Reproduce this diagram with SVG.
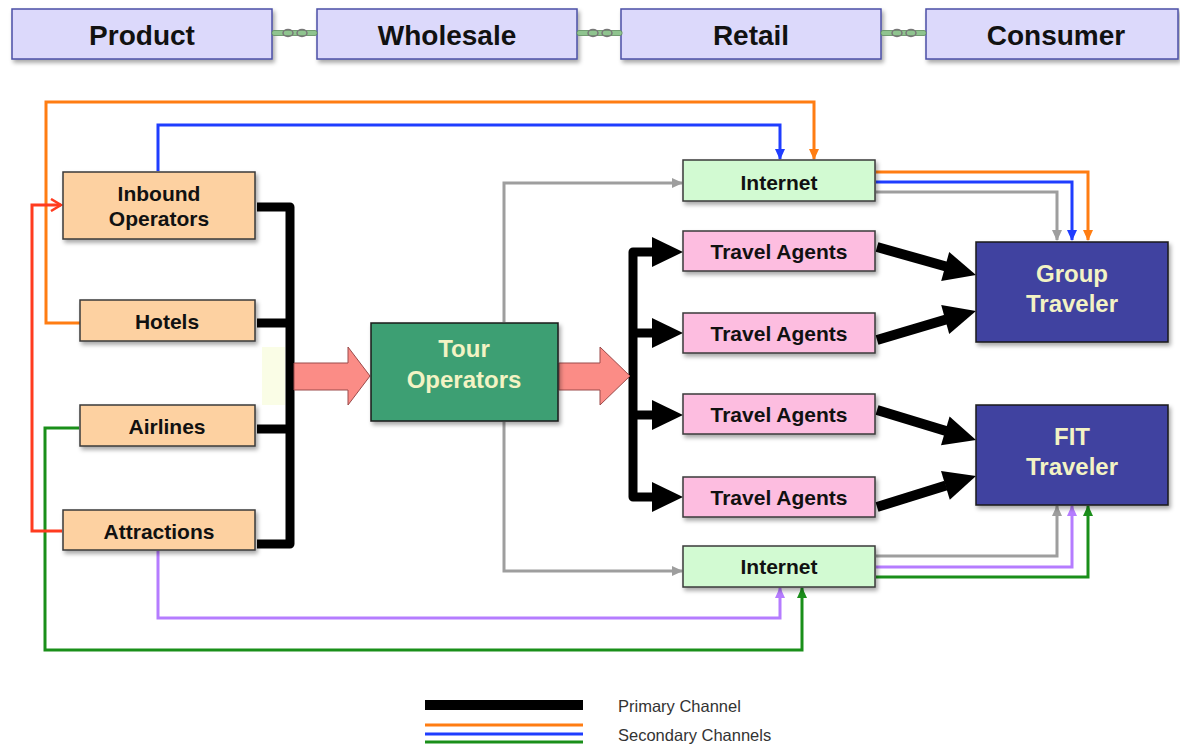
<svg xmlns="http://www.w3.org/2000/svg" width="1180" height="744" viewBox="0 0 1180 744">
<style>
text{font-family:"Liberation Sans",Arial,sans-serif;font-weight:bold;text-anchor:middle;fill:#111}
.hdr rect{fill:#dcd9fb;stroke:#4b4fa6;stroke-width:1.5}
.hdr text{font-size:28px}
.src rect{fill:#fdd1a1;stroke:#3a3a3a;stroke-width:1.5}
.node text{font-size:21px}
.net rect{fill:#d2fad2;stroke:#3a3a3a;stroke-width:1.5}
.ta rect{fill:#fdbde0;stroke:#3a3a3a;stroke-width:1.5}
.trav rect{fill:#4142a0;stroke:#1a1a1a;stroke-width:1.5}
.trav text,.tour text{fill:#f3f3c4;font-size:24px}
.tour rect{fill:#3c9f73;stroke:#1a1a1a;stroke-width:1.5}
.prim{fill:none;stroke:#000;stroke-width:9;stroke-linejoin:round}
.pa{fill:#000}
.sec{fill:none;stroke-width:3}
.pink{fill:#fb8c86;stroke:#9b4a4a;stroke-width:1}
.leg{font-weight:normal;text-anchor:start;font-size:16.5px;fill:#333}
</style>
<defs>
<filter id="sh" x="-10%" y="-10%" width="130%" height="140%">
<feDropShadow dx="2" dy="3" stdDeviation="2" flood-color="#000" flood-opacity="0.35"/>
</filter>
<marker id="mGrey" markerUnits="userSpaceOnUse" markerWidth="11" markerHeight="10" refX="10" refY="5" orient="auto"><path d="M0,0L11,5L0,10z" fill="#9e9e9e"/></marker>
<marker id="mOrange" markerUnits="userSpaceOnUse" markerWidth="11" markerHeight="10" refX="10" refY="5" orient="auto"><path d="M0,0L11,5L0,10z" fill="#ff7d12"/></marker>
<marker id="mBlue" markerUnits="userSpaceOnUse" markerWidth="11" markerHeight="10" refX="10" refY="5" orient="auto"><path d="M0,0L11,5L0,10z" fill="#1f3dff"/></marker>
<marker id="mPurple" markerUnits="userSpaceOnUse" markerWidth="11" markerHeight="10" refX="10" refY="5" orient="auto"><path d="M0,0L11,5L0,10z" fill="#b57cff"/></marker>
<marker id="mGreen" markerUnits="userSpaceOnUse" markerWidth="11" markerHeight="10" refX="10" refY="5" orient="auto"><path d="M0,0L11,5L0,10z" fill="#1a8f1a"/></marker>
<marker id="mRed" markerUnits="userSpaceOnUse" markerWidth="14" markerHeight="14" refX="12" refY="7" orient="auto"><path d="M2,1L12,7L2,13" fill="none" stroke="#ff3b1f" stroke-width="2.5"/></marker>
<g id="chain">
<rect x="0" y="-2.5" width="45" height="5" rx="2" fill="#8fc48f" stroke="#5c8a5c" stroke-width="0.8"/>
<ellipse cx="16" cy="0" rx="5" ry="3.5" fill="none" stroke="#777" stroke-width="1.5"/>
<ellipse cx="30" cy="0" rx="5" ry="3.5" fill="none" stroke="#777" stroke-width="1.5"/>
</g>
</defs>
<rect width="1180" height="744" fill="#fff"/>

<g id="header">
<g id="h-product" class="hdr"><rect x="12" y="9" width="260" height="50" filter="url(#sh)"/><text x="142" y="45">Product</text></g>
<g id="h-wholesale" class="hdr"><rect x="317" y="9" width="260" height="50" filter="url(#sh)"/><text x="447" y="45">Wholesale</text></g>
<g id="h-retail" class="hdr"><rect x="621" y="9" width="260" height="50" filter="url(#sh)"/><text x="751" y="45">Retail</text></g>
<g id="h-consumer" class="hdr"><rect x="926" y="9" width="252" height="50" filter="url(#sh)"/><text x="1056" y="45">Consumer</text></g>
<use href="#chain" x="272" y="33"/>
<use href="#chain" x="577" y="33"/>
<use href="#chain" x="881" y="33"/>
</g>

<rect x="262" y="347" width="23" height="58" fill="#fafde6"/>

<g id="connectors">
<!-- primary -->
<path class="prim" d="M257,207H290V544H257M257,323H290M257,429H290"/>
<path class="prim" d="M653,252H633V497H653M633,333H653M633,415H653"/>
<polygon class="pa" points="652,237 683,252 652,267"/>
<polygon class="pa" points="652,318 683,333 652,348"/>
<polygon class="pa" points="652,400 683,415 652,430"/>
<polygon class="pa" points="652,482 683,497 652,512"/>
<line x1="877" y1="247" x2="946" y2="266.5" stroke="#000" stroke-width="10"/>
<polygon class="pa" points="976,275 949.2,252 941.2,281"/>
<line x1="877" y1="340" x2="946" y2="319.5" stroke="#000" stroke-width="10"/>
<polygon class="pa" points="976,311 949.2,334 941.2,305"/>
<line x1="877" y1="410" x2="946" y2="431" stroke="#000" stroke-width="10"/>
<polygon class="pa" points="976,440 949.6,416.5 941,445.3"/>
<line x1="877" y1="507" x2="946" y2="485.4" stroke="#000" stroke-width="10"/>
<polygon class="pa" points="976,476 949.8,499.7 941,471.1"/>
<!-- pink block arrows -->
<polygon class="pink" points="294,363 348,363 348,347 370,376 348,405 348,390 294,390"/>
<polygon class="pink" points="559,363 600,363 600,347 630,376 600,405 600,390 559,390"/>
<!-- secondary -->
<path class="sec" stroke="#ff7d12" d="M80,323H46V102H814V159" marker-end="url(#mOrange)"/>
<path class="sec" stroke="#1f3dff" d="M158,171V125H780V159" marker-end="url(#mBlue)"/>
<path class="sec" stroke="#9e9e9e" d="M504,322V183H682" marker-end="url(#mGrey)"/>
<path class="sec" stroke="#9e9e9e" d="M504,422V571H682" marker-end="url(#mGrey)"/>
<path class="sec" stroke="#b57cff" d="M158,551V618H780V588" marker-end="url(#mPurple)"/>
<path class="sec" stroke="#1a8f1a" d="M79,428H45V650H802V588" marker-end="url(#mGreen)"/>
<path class="sec" stroke="#ff3b1f" d="M62,531H32V205H61" marker-end="url(#mRed)"/>
<path class="sec" stroke="#ff7d12" d="M876,172H1088V240" marker-end="url(#mOrange)"/>
<path class="sec" stroke="#1f3dff" d="M876,182H1072V240" marker-end="url(#mBlue)"/>
<path class="sec" stroke="#9e9e9e" d="M876,192H1057V240" marker-end="url(#mGrey)"/>
<path class="sec" stroke="#9e9e9e" d="M876,556H1057V506" marker-end="url(#mGrey)"/>
<path class="sec" stroke="#b57cff" d="M876,567H1072V506" marker-end="url(#mPurple)"/>
<path class="sec" stroke="#1a8f1a" d="M876,577H1088V506" marker-end="url(#mGreen)"/>
</g>

<g id="inbound" class="node src"><rect x="63" y="172" width="192" height="67" filter="url(#sh)"/><text x="159" y="201">Inbound</text><text x="159" y="226">Operators</text></g>
<g id="hotels" class="node src"><rect x="80" y="300" width="175" height="41" filter="url(#sh)"/><text x="167" y="329">Hotels</text></g>
<g id="airlines" class="node src"><rect x="80" y="405" width="175" height="41" filter="url(#sh)"/><text x="167" y="434">Airlines</text></g>
<g id="attractions" class="node src"><rect x="63" y="510" width="192" height="40" filter="url(#sh)"/><text x="159" y="539">Attractions</text></g>

<g id="tour" class="tour"><rect x="371" y="323" width="187" height="98" filter="url(#sh)"/><text x="464" y="357">Tour</text><text x="464" y="388">Operators</text></g>

<g id="internet-top" class="node net"><rect x="683" y="160" width="192" height="41" filter="url(#sh)"/><text x="779" y="190">Internet</text></g>
<g id="ta1" class="node ta"><rect x="683" y="231" width="192" height="40" filter="url(#sh)"/><text x="779" y="259">Travel Agents</text></g>
<g id="ta2" class="node ta"><rect x="683" y="313" width="192" height="40" filter="url(#sh)"/><text x="779" y="341">Travel Agents</text></g>
<g id="ta3" class="node ta"><rect x="683" y="394" width="192" height="40" filter="url(#sh)"/><text x="779" y="422">Travel Agents</text></g>
<g id="ta4" class="node ta"><rect x="683" y="477" width="192" height="40" filter="url(#sh)"/><text x="779" y="505">Travel Agents</text></g>
<g id="internet-bottom" class="node net"><rect x="683" y="546" width="192" height="41" filter="url(#sh)"/><text x="779" y="574">Internet</text></g>

<g id="group" class="trav"><rect x="976" y="242" width="192" height="100" filter="url(#sh)"/><text x="1072" y="282">Group</text><text x="1072" y="312">Traveler</text></g>
<g id="fit" class="trav"><rect x="976" y="405" width="192" height="100" filter="url(#sh)"/><text x="1072" y="445">FIT</text><text x="1072" y="475">Traveler</text></g>

<g id="legend">
<rect x="425" y="700" width="158" height="10" fill="#000"/>
<line x1="425" y1="725" x2="583" y2="725" stroke="#ff7d12" stroke-width="3"/>
<line x1="425" y1="734" x2="583" y2="734" stroke="#1f3dff" stroke-width="3"/>
<line x1="425" y1="742" x2="583" y2="742" stroke="#1a8f1a" stroke-width="3"/>
<text class="leg" x="618" y="712">Primary Channel</text>
<text class="leg" x="618" y="741">Secondary Channels</text>
</g>
</svg>
